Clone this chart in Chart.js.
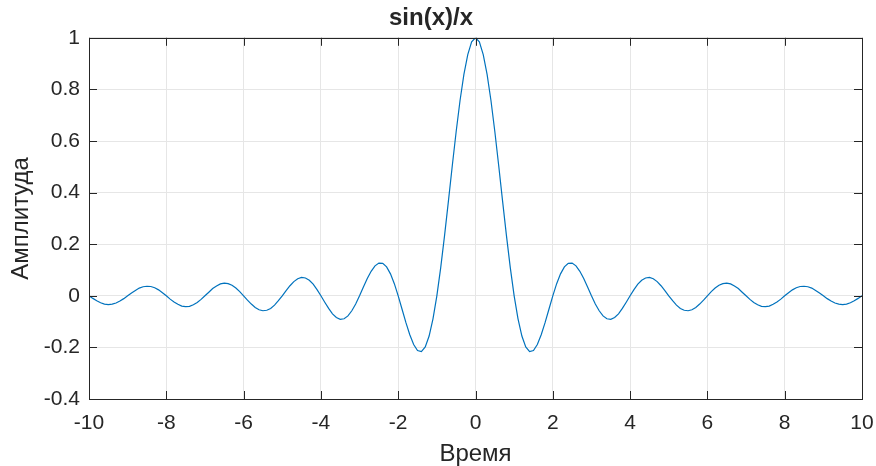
<!DOCTYPE html>
<html>
<head>
<meta charset="utf-8">
<script src="https://cdn.jsdelivr.net/npm/chart.js@4.4.1/dist/chart.umd.min.js"></script>
<style>
    html, body { margin: 0; padding: 0; background: #fff; overflow: hidden; }
    #chart { display: block; }
</style>
</head>
<body>
<canvas id="chart" width="876" height="466"></canvas>
<script>
// Time axis samples (x)
const xValues = [
    -10, -9.9, -9.8, -9.7, -9.6, -9.5, -9.4, -9.3, -9.2, -9.1,
    -9, -8.9, -8.8, -8.7, -8.6, -8.5, -8.4, -8.3, -8.2, -8.1,
    -8, -7.9, -7.8, -7.7, -7.6, -7.5, -7.4, -7.3, -7.2, -7.1,
    -7, -6.9, -6.8, -6.7, -6.6, -6.5, -6.4, -6.3, -6.2, -6.1,
    -6, -5.9, -5.8, -5.7, -5.6, -5.5, -5.4, -5.3, -5.2, -5.1,
    -5, -4.9, -4.8, -4.7, -4.6, -4.5, -4.4, -4.3, -4.2, -4.1,
    -4, -3.9, -3.8, -3.7, -3.6, -3.5, -3.4, -3.3, -3.2, -3.1,
    -3, -2.9, -2.8, -2.7, -2.6, -2.5, -2.4, -2.3, -2.2, -2.1,
    -2, -1.9, -1.8, -1.7, -1.6, -1.5, -1.4, -1.3, -1.2, -1.1,
    -1, -0.9, -0.8, -0.7, -0.6, -0.5, -0.4, -0.3, -0.2, -0.1,
    0, 0.1, 0.2, 0.3, 0.4, 0.5, 0.6, 0.7, 0.8, 0.9,
    1, 1.1, 1.2, 1.3, 1.4, 1.5, 1.6, 1.7, 1.8, 1.9,
    2, 2.1, 2.2, 2.3, 2.4, 2.5, 2.6, 2.7, 2.8, 2.9,
    3, 3.1, 3.2, 3.3, 3.4, 3.5, 3.6, 3.7, 3.8, 3.9,
    4, 4.1, 4.2, 4.3, 4.4, 4.5, 4.6, 4.7, 4.8, 4.9,
    5, 5.1, 5.2, 5.3, 5.4, 5.5, 5.6, 5.7, 5.8, 5.9,
    6, 6.1, 6.2, 6.3, 6.4, 6.5, 6.6, 6.7, 6.8, 6.9,
    7, 7.1, 7.2, 7.3, 7.4, 7.5, 7.6, 7.7, 7.8, 7.9,
    8, 8.1, 8.2, 8.3, 8.4, 8.5, 8.6, 8.7, 8.8, 8.9,
    9, 9.1, 9.2, 9.3, 9.4, 9.5, 9.6, 9.7, 9.8, 9.9,
    10
];

// Amplitude
const amplitude = [
    0, -0.010, -0.019, -0.027, -0.032, -0.034, -0.032, -0.028, -0.020, -0.011,
    0, 0.011, 0.021, 0.030, 0.035, 0.037, 0.036, 0.031, 0.023, 0.012,
    0, -0.013, -0.024, -0.033, -0.040, -0.042, -0.041, -0.035, -0.026, -0.014,
    0, 0.014, 0.028, 0.038, 0.046, 0.049, 0.047, 0.041, 0.030, 0.016,
    0, -0.017, -0.032, -0.045, -0.054, -0.058, -0.056, -0.049, -0.036, -0.019,
    0, 0.020, 0.039, 0.055, 0.066, 0.071, 0.069, 0.060, 0.045, 0.024,
    0, -0.025, -0.049, -0.070, -0.084, -0.091, -0.089, -0.078, -0.058, -0.032,
    0, 0.034, 0.067, 0.095, 0.116, 0.127, 0.126, 0.112, 0.085, 0.047,
    0, -0.052, -0.104, -0.151, -0.189, -0.212, -0.216, -0.198, -0.156, -0.089,
    0, 0.109, 0.234, 0.368, 0.505, 0.637, 0.757, 0.858, 0.935, 0.984,
    1, 0.984, 0.935, 0.858, 0.757, 0.637, 0.505, 0.368, 0.234, 0.109,
    0, -0.089, -0.156, -0.198, -0.216, -0.212, -0.189, -0.151, -0.104, -0.052,
    0, 0.047, 0.085, 0.112, 0.126, 0.127, 0.116, 0.095, 0.067, 0.034,
    0, -0.032, -0.058, -0.078, -0.089, -0.091, -0.084, -0.070, -0.049, -0.025,
    0, 0.024, 0.045, 0.060, 0.069, 0.071, 0.066, 0.055, 0.039, 0.020,
    0, -0.019, -0.036, -0.049, -0.056, -0.058, -0.054, -0.045, -0.032, -0.017,
    0, 0.016, 0.030, 0.041, 0.047, 0.049, 0.046, 0.038, 0.028, 0.014,
    0, -0.014, -0.026, -0.035, -0.041, -0.042, -0.040, -0.033, -0.024, -0.013,
    0, 0.012, 0.023, 0.031, 0.036, 0.037, 0.035, 0.030, 0.021, 0.011,
    0, -0.011, -0.020, -0.028, -0.032, -0.034, -0.032, -0.027, -0.019, -0.010,
    0
];

const titleText = "sin(x)/x";
const xLabel = "Время";
const yLabel = "Амплитуда";

const textColor = "#262626";
const fontFamily = "'Liberation Sans', Arial, sans-serif";

// Box around the axes plus inward tick marks (MATLAB style)
const boxPlugin = {
    id: "boxPlugin",
    afterDraw(chart) {
        const ctx = chart.ctx;
        const area = chart.chartArea;
        const xs = chart.scales.x;
        const ys = chart.scales.y;
        const len = 8;
        ctx.save();
        ctx.strokeStyle = textColor;
        ctx.lineWidth = 1;
        ctx.beginPath();
        xs.ticks.forEach((t, i) => {
            const px = Math.round(xs.getPixelForTick(i)) + 0.5;
            ctx.moveTo(px, area.bottom);
            ctx.lineTo(px, area.bottom - len);
            ctx.moveTo(px, area.top);
            ctx.lineTo(px, area.top + len);
        });
        ys.ticks.forEach((t, i) => {
            const py = Math.round(ys.getPixelForTick(i)) + 0.5;
            ctx.moveTo(area.left, py);
            ctx.lineTo(area.left + len, py);
            ctx.moveTo(area.right, py);
            ctx.lineTo(area.right - len, py);
        });
        ctx.stroke();
        ctx.strokeRect(Math.round(area.left) + 0.5, Math.round(area.top) + 0.5,
            Math.round(area.right - area.left), Math.round(area.bottom - area.top));
        ctx.restore();
    },
};

new Chart(document.getElementById("chart"), {
    type: "line",
    data: {
        datasets: [
            {
                data: xValues.map((x, i) => ({ x: x, y: amplitude[i] })),
                borderColor: "#0072BD",
                borderWidth: 1.2,
                pointRadius: 0,
                tension: 0,
                fill: false,
            },
        ],
    },
    options: {
        responsive: false,
        animation: false,
        devicePixelRatio: 1,
        layout: { padding: { left: 0, right: 14, top: 0, bottom: 0 } },
        plugins: {
            legend: { display: false },
            tooltip: { enabled: false },
            title: {
                display: true,
                text: titleText,
                color: textColor,
                font: { family: fontFamily, size: 24, weight: "bold", lineHeight: 1.2 },
                padding: { top: 4, bottom: 5 },
            },
        },
        scales: {
            x: {
                type: "linear",
                min: -10,
                max: 10,
                afterFit: (scale) => {
                    scale.height = 67;
                    scale.paddingLeft = 0;
                    scale.paddingRight = 0;
                },
                ticks: {
                    stepSize: 2,
                    color: textColor,
                    font: { family: fontFamily, size: 21 },
                    padding: 12,
                    maxRotation: 0,
                    autoSkip: false,
                },
                grid: { color: "#e6e6e6", drawTicks: false },
                border: { display: false },
                title: {
                    display: true,
                    text: xLabel,
                    color: textColor,
                    font: { family: fontFamily, size: 24, lineHeight: 1 },
                    padding: { top: 0, bottom: 0 },
                },
            },
            y: {
                min: -0.4,
                max: 1,
                afterFit: (scale) => { scale.width = 89; },
                ticks: {
                    stepSize: 0.2,
                    color: textColor,
                    font: { family: fontFamily, size: 21 },
                    padding: 9,
                    autoSkip: false,
                    callback: (v) => String(Number(v.toFixed(1))),
                },
                grid: { color: "#e6e6e6", drawTicks: false },
                border: { display: false },
                title: {
                    display: true,
                    text: yLabel,
                    color: textColor,
                    font: { family: fontFamily, size: 24, lineHeight: 1 },
                    padding: { top: 9, bottom: 0 },
                },
            },
        },
    },
    plugins: [boxPlugin],
});
</script>
</body>
</html>
